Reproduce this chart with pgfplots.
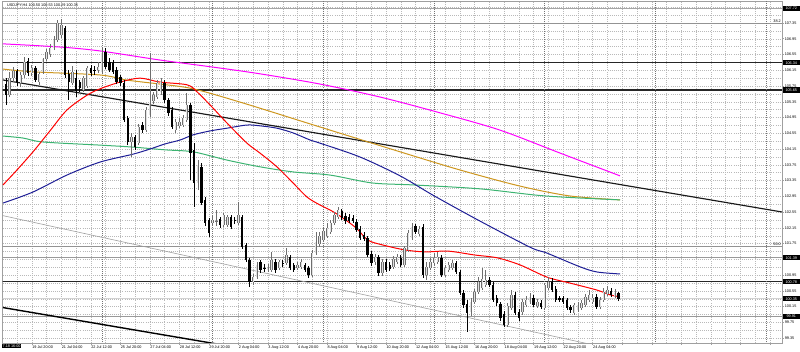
\documentclass[border=0pt]{standalone}
\usepackage{pgfplots}
\pgfplotsset{compat=1.18}
\usepackage{pgfplotstable}
\usepackage{fontspec}
\setmainfont{Liberation Sans}
\definecolor{mtred}{RGB}{255,0,0}
\definecolor{mtblue}{RGB}{30,30,150}
\definecolor{mtgreen}{RGB}{60,179,113}
\definecolor{mtorange}{RGB}{205,150,30}
\definecolor{mtmag}{RGB}{255,0,255}
\definecolor{bullbody}{RGB}{225,225,225}
\definecolor{bullline}{RGB}{110,110,110}
\newcommand\tk{\fontsize{3.8}{4}\selectfont}
\pgfplotstableread{
i o h l c
0 105.80 105.95 105.27 105.52
1 105.52 106.11 105.47 105.95
2 105.95 106.23 105.85 106.13
3 106.13 106.18 105.75 105.85
4 105.83 106.11 105.73 106.03
5 106.03 106.49 105.95 106.36
6 106.39 106.46 106.00 106.08
7 106.08 106.28 106.00 106.21
8 106.21 106.26 105.85 105.90
9 105.85 106.11 105.78 106.06
10 106.11 106.46 106.06 106.44
11 106.44 106.69 106.39 106.61
12 106.56 106.82 106.49 106.72
13 106.72 107.02 106.66 106.92
14 106.92 107.43 106.87 107.35
15 107.05 107.45 106.97 107.30
16 107.22 107.27 105.95 106.03
17 106.06 106.16 105.40 105.85
18 105.83 106.26 105.78 106.11
19 105.95 106.16 105.47 105.62
20 105.85 105.90 105.60 105.70
21 105.65 106.00 105.60 105.95
22 105.75 106.26 105.70 106.21
23 106.21 106.28 106.00 106.08
24 106.16 106.26 106.03 106.13
25 106.16 106.36 106.08 106.23
26 106.11 106.72 106.06 106.59
27 106.61 106.72 106.18 106.23
28 106.36 106.46 106.11 106.16
29 106.34 106.41 106.06 106.11
30 106.16 106.23 105.80 105.85
31 105.98 106.03 105.75 105.83
32 105.83 105.90 104.84 104.89
33 104.94 104.99 104.25 104.33
34 104.33 104.56 103.95 104.46
35 104.46 104.51 104.13 104.20
36 104.30 104.79 104.25 104.71
37 104.76 104.84 104.56 104.63
38 104.63 105.22 104.58 105.14
39 105.02 106.59 104.96 105.32
40 105.37 105.60 105.29 105.52
41 105.47 105.90 105.42 105.83
42 105.60 105.95 105.52 105.85
43 105.83 105.90 105.32 105.40
44 105.40 105.45 104.99 105.07
45 105.14 105.22 104.66 104.71
46 104.63 104.91 104.56 104.84
47 104.73 104.94 104.69 104.84
48 104.76 105.02 104.71 104.94
49 104.89 105.57 104.84 105.27
50 105.27 105.32 103.37 104.05
51 104.13 104.30 102.68 103.29
52 103.29 103.87 103.11 103.75
53 103.70 103.80 102.73 102.78
54 102.86 102.93 102.20 102.28
55 102.35 102.40 101.92 102.02
56 102.28 102.45 102.20 102.35
57 102.30 102.60 102.20 102.33
58 102.38 102.43 102.15 102.22
59 102.22 102.53 102.17 102.48
60 102.22 102.48 102.17 102.43
61 102.43 102.48 102.12 102.17
62 102.35 102.43 102.25 102.33
63 102.28 102.81 102.22 102.48
64 102.43 102.48 101.62 101.67
65 101.72 101.77 101.29 101.34
66 101.34 101.39 100.65 100.78
67 100.78 100.98 100.70 100.90
68 100.90 101.29 100.85 101.21
69 101.29 101.34 101.01 101.08
70 101.13 101.23 101.03 101.11
71 101.08 101.23 101.03 101.13
72 101.08 101.54 101.03 101.34
73 101.29 101.36 101.01 101.08
74 101.13 101.34 101.08 101.29
75 101.26 101.34 101.16 101.23
76 101.26 101.64 101.21 101.46
77 101.41 101.46 101.08 101.13
78 101.21 101.26 101.03 101.08
79 101.13 101.29 101.08 101.21
80 101.16 101.36 101.11 101.29
81 101.21 101.26 101.03 101.08
82 101.13 101.18 100.88 100.95
83 100.95 101.59 100.90 101.51
84 101.51 102.05 101.46 101.79
85 101.74 102.05 101.67 101.94
86 101.84 102.15 101.79 102.07
87 101.94 102.28 101.89 102.15
88 102.05 102.35 102.00 102.28
89 102.28 102.55 102.22 102.48
90 102.43 102.68 102.38 102.60
91 102.58 102.63 102.35 102.40
92 102.45 102.53 102.25 102.33
93 102.43 102.50 102.28 102.33
94 102.40 102.48 102.28 102.33
95 102.30 102.38 102.05 102.10
96 102.12 102.20 101.84 101.89
97 101.97 102.05 101.82 101.87
98 101.89 101.94 101.41 101.46
99 101.49 101.56 101.18 101.26
100 101.29 101.49 101.21 101.41
101 101.41 101.46 100.93 101.01
102 101.01 101.36 100.93 101.29
103 101.29 101.36 101.03 101.08
104 101.21 101.29 101.06 101.11
105 101.16 101.44 101.11 101.36
106 101.29 101.49 101.23 101.41
107 101.39 101.46 101.16 101.21
108 101.21 101.69 101.16 101.64
109 101.59 102.10 101.54 102.02
110 101.89 102.28 101.84 102.17
111 102.20 102.25 102.00 102.05
112 102.00 102.20 101.94 102.12
113 102.17 102.25 100.88 100.95
114 100.95 101.29 100.83 101.16
115 101.13 101.39 101.08 101.29
116 101.26 101.49 101.21 101.39
117 101.29 101.54 101.23 101.41
118 101.39 101.46 100.90 100.95
119 100.95 101.21 100.90 101.13
120 101.08 101.29 101.03 101.21
121 101.13 101.34 101.08 101.26
122 101.26 101.31 100.98 101.03
123 101.03 101.08 100.45 100.50
124 100.50 100.57 100.12 100.19
125 100.22 100.32 99.51 99.99
126 100.02 100.37 99.91 100.27
127 100.27 100.60 100.22 100.52
128 100.52 100.90 100.47 100.78
129 100.63 101.13 100.57 100.85
130 100.70 101.08 100.65 100.83
131 100.83 100.90 100.65 100.70
132 100.70 100.78 100.27 100.32
133 100.37 100.45 100.17 100.24
134 100.22 100.27 99.79 99.86
135 99.97 100.04 99.63 99.68
136 99.68 100.24 99.63 100.17
137 100.12 100.57 100.07 100.45
138 100.45 100.52 99.94 99.99
139 100.02 100.09 99.79 99.86
140 100.02 100.35 99.94 100.27
141 100.19 100.42 100.14 100.32
142 100.27 100.50 100.22 100.40
143 100.37 100.45 100.14 100.19
144 100.17 100.35 100.12 100.27
145 100.24 100.32 100.09 100.14
146 100.12 100.75 100.07 100.70
147 100.63 100.90 100.57 100.78
148 100.78 100.88 100.52 100.57
149 100.60 100.68 100.27 100.32
150 100.37 100.42 100.27 100.32
151 100.37 100.42 100.22 100.27
152 100.32 100.37 100.07 100.12
153 100.14 100.19 99.99 100.07
154 99.99 100.24 99.94 100.19
155 100.07 100.27 100.02 100.19
156 100.12 100.32 100.07 100.24
157 100.19 100.47 100.14 100.40
158 100.32 100.57 100.27 100.45
159 100.27 100.47 100.22 100.37
160 100.40 100.47 100.09 100.14
161 100.14 100.40 100.09 100.32
162 100.32 100.63 100.27 100.52
163 100.47 100.68 100.42 100.57
164 100.55 100.63 100.40 100.45
165 100.42 100.60 100.37 100.50
166 100.50 100.53 100.29 100.35
}\candles
\pgfplotstableread{
i p
-0.81 103.24
2.98 103.62
7.32 104.08
11.9 104.61
16.5 105.14
22.0 105.52
25.5 105.68
30.9 105.85
36.3 105.95
41.7 105.85
49.1 105.78
51.8 105.60
55.3 105.27
59.9 104.81
65.3 104.30
68.8 104.05
73.4 103.70
77.8 103.29
81.6 102.93
85.1 102.73
89.2 102.53
94.6 102.17
98.1 101.84
101.9 101.72
108.1 101.59
113.6 101.54
119.8 101.56
127.1 101.46
133.1 101.39
139.3 101.21
146.6 100.90
152.8 100.75
160.2 100.57
163.7 100.45
166.4 100.40
}\mared
\pgfplotstableread{
i p
-0.81 102.78
7.32 103.06
16.5 103.49
25.5 103.82
34.4 104.02
39.0 104.15
43.1 104.28
47.2 104.38
50.7 104.51
55.3 104.61
59.9 104.68
65.3 104.76
68.8 104.74
73.4 104.68
77.8 104.56
82.4 104.38
85.1 104.30
95.9 103.95
106.8 103.47
115.7 102.98
127.9 102.35
142.0 101.66
146.6 101.51
155.6 101.16
160.2 101.03
166.4 100.98
}\mablue
\pgfplotstableread{
i p
-0.81 104.48
4.6 104.43
10.0 104.33
25.5 104.25
34.4 104.20
43.1 104.13
50.7 104.08
59.9 103.87
68.8 103.70
77.8 103.57
87.8 103.49
99.2 103.29
110.3 103.24
128.5 103.14
146.1 102.96
166.4 102.86
}\magreen
\pgfplotstableread{
i p
-0.81 106.18
7.32 106.11
25.5 106.03
32.8 105.90
41.7 105.80
50.7 105.68
64.2 105.32
85.1 104.71
106.8 104.08
123.0 103.62
139.3 103.21
152.8 102.96
166.4 102.86
}\maorange
\pgfplotstableread{
i p
-0.81 106.82
14.6 106.74
25.5 106.64
41.7 106.41
56.1 106.23
68.8 106.06
85.1 105.80
101.4 105.47
117.6 105.07
133.9 104.63
150.1 104.05
166.4 103.47
}\mamag
\begin{document}
\begin{tikzpicture}
\path[use as bounding box] (0,0) rectangle (800bp,352bp);
\begin{axis}[
  at={(2.7bp,9bp)}, anchor=south west, scale only axis,
  width=779.3bp, height=342bp,
  xmin=-0.894, xmax=210.3, ymin=99.228, ymax=107.908,
  axis line style={draw=gray!75, line width=0.6bp},
  xtick={7,15,...,207},
  xticklabels={19 Jul 20:00,21 Jul 04:00,22 Jul 12:00,25 Jul 20:00,27 Jul 04:00,28 Jul 12:00,29 Jul 20:00,2 Aug 04:00,3 Aug 12:00,4 Aug 20:00,8 Aug 04:00,9 Aug 12:00,10 Aug 20:00,12 Aug 04:00,15 Aug 12:00,16 Aug 20:00,18 Aug 04:00,19 Aug 12:00,22 Aug 20:00,24 Aug 04:00,,,,,,},
  minor xtick={3,11,...,203},
  ytick={99.35,99.75,100.15,100.55,100.95,101.75,102.15,102.55,102.95,103.35,103.75,104.15,104.55,104.95,105.35,105.75,106.15,106.55,106.95,107.35},
  yticklabels={99.35,99.75,100.15,100.55,100.95,101.75,102.15,102.55,102.95,103.35,103.75,104.15,104.55,104.95,105.35,105.75,106.15,106.55,106.95,107.35},
  minor ytick={99.55,99.95,100.35,100.75,101.15,101.35,101.55,101.95,102.35,102.75,103.15,103.55,103.95,104.35,104.75,105.15,105.55,105.95,106.35,106.75,107.15,107.55,107.75},
  grid=both,
  major grid style={dash pattern=on 0.5bp off 1.6bp, gray!55, line width=0.45bp},
  minor grid style={dash pattern=on 0.5bp off 1.6bp, gray!55, line width=0.45bp},
  xtick pos=bottom, ytick pos=right, yticklabel pos=right,
  tick align=outside, major tick length=2bp, minor tick length=0bp,
  every tick/.style={gray!75, line width=0.5bp},
  xticklabel style={font=\tk, anchor=north west, inner sep=0.6bp, xshift=-0.3bp},
  yticklabel style={font=\tk, anchor=west, inner sep=0.6bp},
  unbounded coords=discard,
  clip=true,
]
% horizontal levels
\addplot[gray!70, line width=0.6bp] coordinates {(-2,107.72) (212,107.72)};
\addplot[gray!85, line width=0.7bp] coordinates {(-2,107.35) (212,107.35)};
\addplot[black!85, line width=0.9bp] coordinates {(-2,106.34) (212,106.34)};
\addplot[black!85, line width=1.1bp] coordinates {(-2,105.65) (212,105.65)};
\addplot[gray!85, line width=0.7bp] coordinates {(-2,101.69) (212,101.69)};
\addplot[gray!80, line width=0.8bp] coordinates {(-2,101.39) (212,101.39)};
\addplot[black!85, line width=0.9bp] coordinates {(-2,100.78) (212,100.78)};
\addplot[gray!35, line width=0.7bp] coordinates {(-2,100.35) (212,100.35)};
\addplot[gray!80, line width=1.0bp] coordinates {(-2,99.91) (212,99.91)};
% weekly separators
\foreach \s in {26,56,86,116,146,176,206} {
  \edef\temp{\noexpand\addplot[gray!90!black, line width=0.5bp, dash pattern=on 1bp off 1bp] coordinates {(\s,99.2) (\s,108)};}
  \temp
}
% trend lines
\addplot[black!90, line width=1.15bp] coordinates {(-0.81,105.903) (210.3,102.553)};
\addplot[black, line width=1.4bp] coordinates {(-0.81,100.127) (58.0,99.19)};
\addplot[gray!75, line width=0.6bp] coordinates {(-0.81,102.46) (166.4,99.03)};
% moving averages
\addplot[mtmag, line width=1.0bp, smooth] table[x=i,y=p] {\mamag};
\addplot[mtorange, line width=1.0bp, smooth] table[x=i,y=p] {\maorange};
\addplot[mtgreen, line width=1.0bp, smooth] table[x=i,y=p] {\magreen};
\addplot[mtblue, line width=1.0bp, smooth] table[x=i,y=p] {\mablue};
\addplot[mtred, line width=1.0bp, smooth] table[x=i,y=p] {\mared};
% bull candles
\addplot[bullline, line width=0.7bp, quiver={u=0,v=\thisrow{h}-\thisrow{l}},
  restrict expr to domain={\thisrow{c}-\thisrow{o}}{0:100}] table[x=i,y=l] {\candles};
\addplot[bullline, line width=2.4bp, quiver={u=0,v=\thisrow{c}-\thisrow{o}},
  restrict expr to domain={\thisrow{c}-\thisrow{o}}{0:100}] table[x=i,y=o] {\candles};
\addplot[bullbody, line width=1.0bp, quiver={u=0,v=\thisrow{c}-\thisrow{o}},
  restrict expr to domain={\thisrow{c}-\thisrow{o}}{0.05:100}] table[x=i,y=o] {\candles};
% bear candles
\addplot[black, line width=0.7bp, quiver={u=0,v=\thisrow{h}-\thisrow{l}},
  restrict expr to domain={\thisrow{c}-\thisrow{o}}{-100:-0.001}] table[x=i,y=l] {\candles};
\addplot[black, line width=2.4bp, quiver={u=0,v=\thisrow{c}-\thisrow{o}},
  restrict expr to domain={\thisrow{c}-\thisrow{o}}{-100:-0.001}] table[x=i,y=o] {\candles};
\coordinate (b1) at (axis cs:210.3,107.72);
\coordinate (b2) at (axis cs:210.3,106.34);
\coordinate (b3) at (axis cs:210.3,105.65);
\coordinate (b4) at (axis cs:210.3,101.39);
\coordinate (b5) at (axis cs:210.3,100.78);
\coordinate (b6) at (axis cs:210.3,100.35);
\coordinate (b7) at (axis cs:210.3,99.91);
\coordinate (f1) at (axis cs:210.3,107.35);
\coordinate (f2) at (axis cs:210.3,101.69);
\end{axis}
\foreach \c/\v in {b1/107.72,b2/106.34,b3/105.65,b4/101.39,b5/100.78,b6/100.35,b7/99.91}{
  \node[anchor=west, fill=black, text=white, font=\tk, inner xsep=0.5bp, inner ysep=1.2bp, minimum width=17bp] at ([xshift=0.6bp]\c) {\v};
}
\node[anchor=south east, font=\tk, inner sep=0.5bp] at ([xshift=-0.5bp]f1) {38.2};
\node[anchor=south east, font=\tk, inner sep=0.5bp] at ([xshift=-0.5bp]f2) {50.0};
\node[anchor=north west, fill=black, text=white, font=\tk, inner xsep=0.5bp, inner ysep=1.0bp] at (2bp,8.6bp) {7.18 16:00};
\node[anchor=west, font=\tk, inner sep=0pt] at (7bp,347bp) {USDJPY,H4 100.50 100.53 100.29 100.35};
\end{tikzpicture}
\end{document}
